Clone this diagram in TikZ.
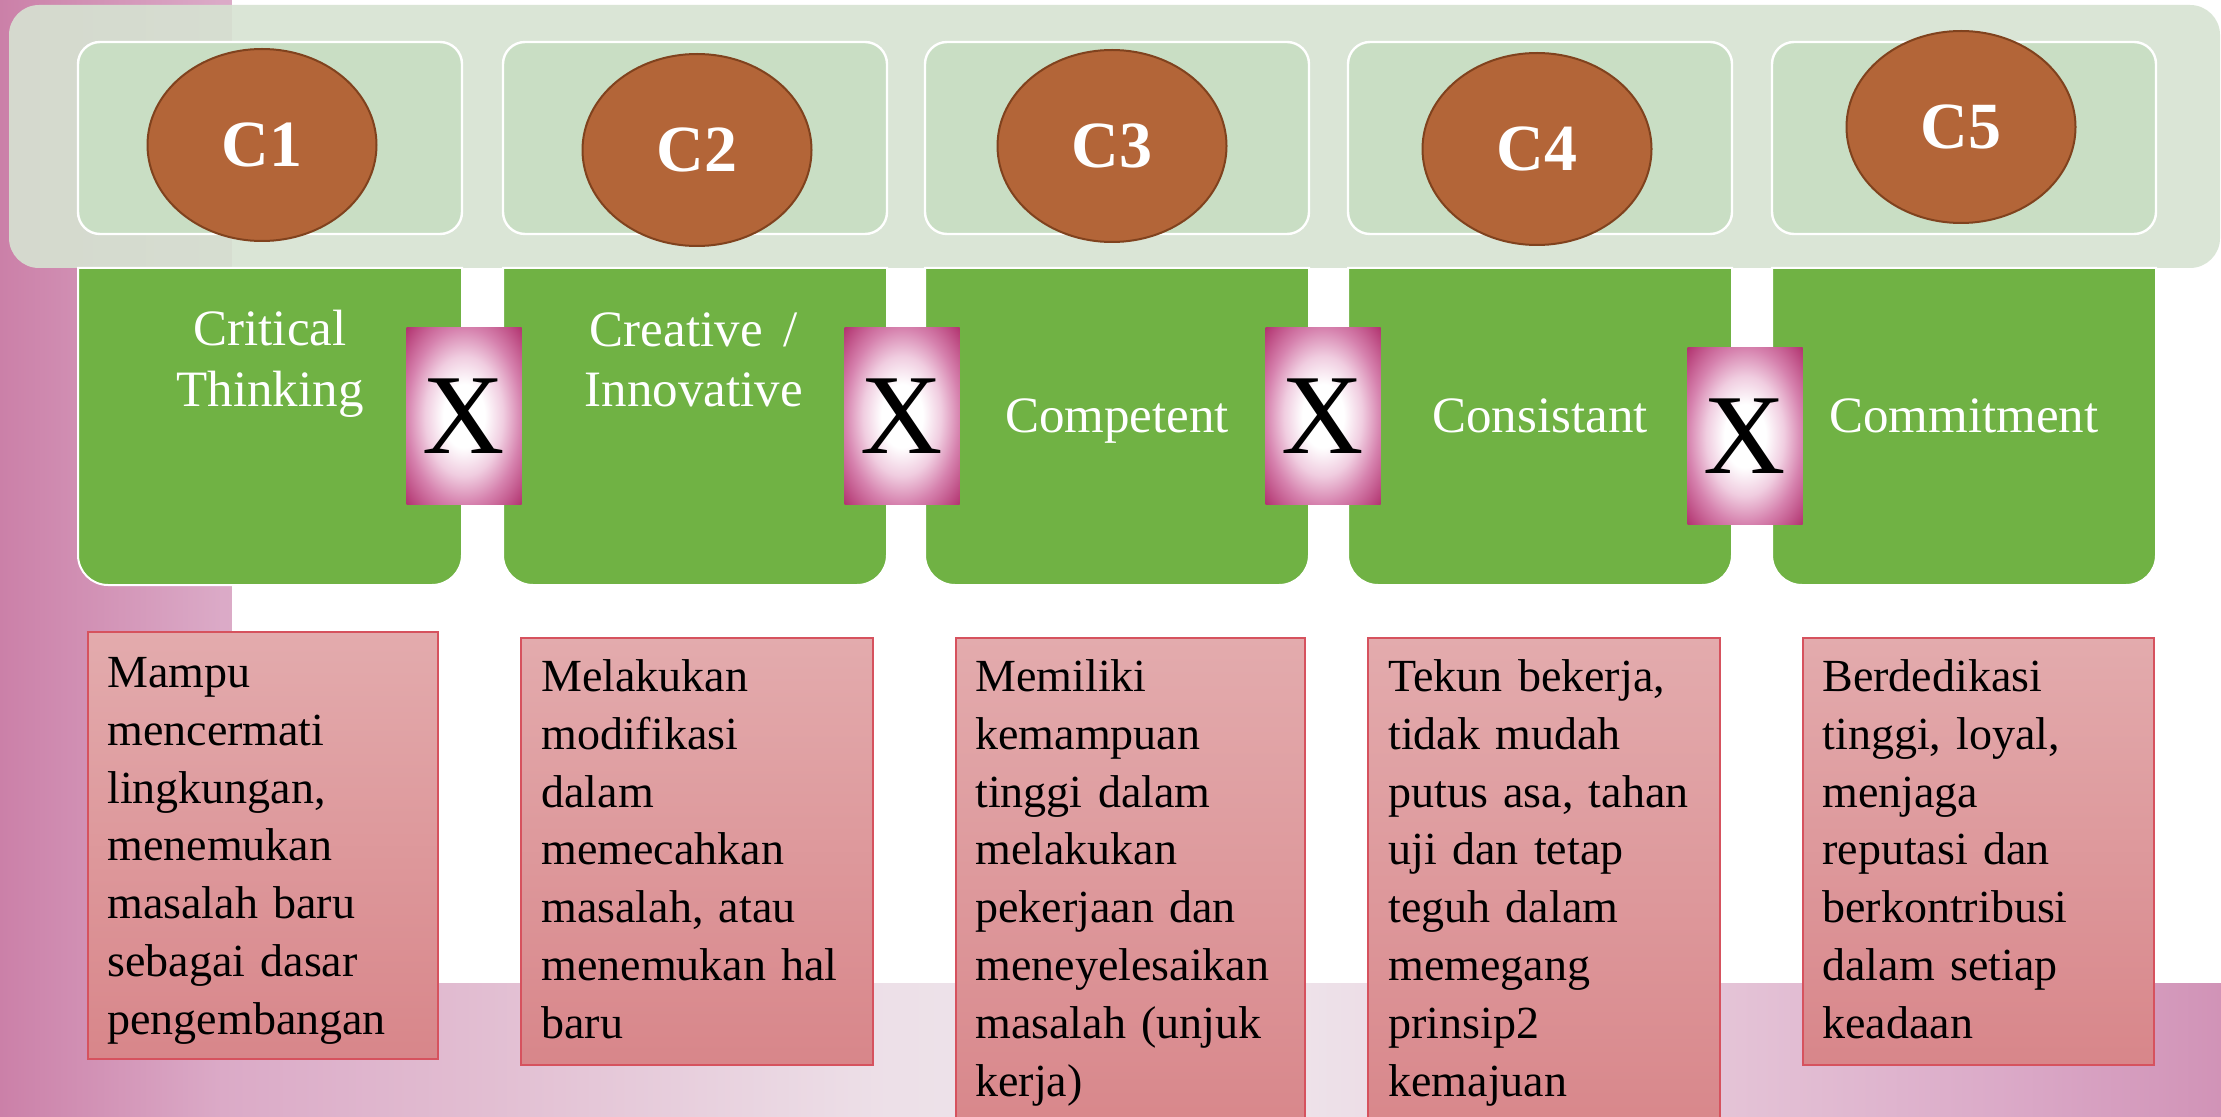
\documentclass[tikz,border=0pt]{standalone}
\usepackage{fontspec}
\setmainfont{Liberation Serif}
\usetikzlibrary{shapes.geometric}
\definecolor{pkA}{RGB}{203,128,168}
\definecolor{pkB}{RGB}{219,170,199}
\definecolor{pkC}{RGB}{226,190,210}
\definecolor{pkD}{RGB}{237,224,232}
\definecolor{pkE}{RGB}{239,230,236}
\definecolor{pkF}{RGB}{231,203,219}
\definecolor{pkG}{RGB}{219,170,200}
\definecolor{pkH}{RGB}{209,147,183}
\definecolor{bandG}{RGB}{214,227,210}
\definecolor{innerG}{RGB}{201,222,196}
\definecolor{greenF}{RGB}{112,178,68}
\definecolor{ellF}{RGB}{179,101,56}
\definecolor{ellD}{RGB}{128,66,30}
\definecolor{redT}{RGB}{227,171,173}
\definecolor{redB}{RGB}{216,134,138}
\definecolor{redL}{RGB}{214,82,94}
\definecolor{xmA}{RGB}{240,205,224}
\definecolor{xmB}{RGB}{214,130,174}
\definecolor{xmC}{RGB}{178,52,112}
\pgfdeclarehorizontalshading{bgshade}{100bp}{color(0bp)=(pkA); color(25bp)=(pkA); color(30bp)=(pkB); color(36bp)=(pkC); color(45bp)=(pkD); color(53bp)=(pkE); color(62bp)=(pkF); color(70bp)=(pkG); color(75bp)=(pkH); color(100bp)=(pkH)}
\pgfdeclareradialshading{xglow}{\pgfpoint{0bp}{0bp}}{color(0bp)=(white); color(9bp)=(white); color(17bp)=(xmA); color(25bp)=(xmB); color(35.4bp)=(xmC); color(50bp)=(xmC)}
\tikzset{
  innerbox/.style={fill=innerG, draw=white, line width=1.2pt, rounded corners=11pt},
  greenbox/.style={fill=greenF, draw=white, line width=1pt},
  cell/.style={ellipse, fill=ellF, draw=ellD, line width=1pt, minimum width=114.5pt, minimum height=96pt, inner sep=0pt, text=white, font=\fontsize{33}{40}\selectfont\bfseries},
  xbox/.style={rectangle, shade, shading=xglow, minimum width=57.5pt, minimum height=88pt, inner sep=0pt, font=\fontsize{57}{60}\selectfont},
  glabel/.style={text=white, font=\fontsize{25.5}{30.5}\selectfont, anchor=base, inner sep=0pt},
  desc/.style={anchor=north west, inner sep=0pt, text width=170pt, align=left, font=\fontsize{23}{28.9}\selectfont},
  redbox/.style={top color=redT, bottom color=redB, draw=redL, line width=1pt}
}
\begin{document}
\begin{tikzpicture}[x=0.5pt,y=-0.5pt]
\useasboundingbox (0,0) rectangle (2221,1117);
\clip (0,0) rectangle (2221,1117);
% background
\shade[shading=bgshade] (0,0) rectangle (2221,1117);
\fill[white] (232,0) rectangle (2221,983);
% top band
\fill[bandG, fill opacity=0.9, rounded corners=15pt] (9,5) rectangle (2220,268);
% inner boxes and green boxes
\foreach \x in {78,503,925,1348,1772}{
  \draw[innerbox] (\x,42) rectangle ({\x+384},234);
  \draw[greenbox] (\x,268) -- (\x,555) .. controls (\x,571.6) and ({\x+13.4},585) .. ({\x+30},585)
     -- ({\x+354},585) .. controls ({\x+370.6},585) and ({\x+384},571.6) .. ({\x+384},555)
     -- ({\x+384},268) -- cycle;
}
% ellipses
\node[cell] (c1) at (262,145) {C1};
\node[cell] (c2) at (697,150) {C2};
\node[cell] (c3) at (1112,146) {C3};
\node[cell] (c4) at (1537,149) {C4};
\node[cell] (c5) at (1961,127) {C5};
% green labels
\node[glabel] (g1a) at (270,346) {Critical};
\node[glabel] (g1b) at (270,407) {Thinking};
\node[glabel] (g2a) at (694,347) {Creative \,/};
\node[glabel] (g2b) at (694,407) {Innovative};
\node[glabel] (g3) at (1117,432) {Competent};
\node[glabel] (g4) at (1540,432) {Consistant};
\node[glabel] (g5) at (1964,432) {Commitment};
% X boxes
\node[xbox] (x1) at (464,416) {X};
\node[xbox] (x2) at (902,416) {X};
\node[xbox] (x3) at (1323,416) {X};
\node[xbox] (x4) at (1745,436) {X};
% description boxes
\shade[redbox] (88,632) rectangle (438,1059);
\shade[redbox] (521,638) rectangle (873,1065);
\shade[redbox] (956,638) rectangle (1305,1140);
\shade[redbox] (1368,638) rectangle (1720,1140);
\shade[redbox] (1803,638) rectangle (2154,1065);
\node[desc] (d1) at (107,647) {\rule{0pt}{20pt}Mampu\\mencermati\\lingkungan,\\menemukan\\masalah baru\\sebagai dasar\\pengembangan};
\node[desc] (d2) at (541,651) {\rule{0pt}{20pt}Melakukan\\modifikasi\\dalam\\memecahkan\\masalah, atau\\menemukan hal\\baru};
\node[desc] (d3) at (975,651) {\rule{0pt}{20pt}Memiliki\\kemampuan\\tinggi dalam\\melakukan\\pekerjaan dan\\meneyelesaikan\\masalah (unjuk\\kerja)};
\node[desc] (d4) at (1388,651) {\rule{0pt}{20pt}Tekun bekerja,\\tidak mudah\\putus asa, tahan\\uji dan tetap\\teguh dalam\\memegang\\prinsip2\\kemajuan};
\node[desc] (d5) at (1822,651) {\rule{0pt}{20pt}Berdedikasi\\tinggi, loyal,\\menjaga\\reputasi dan\\berkontribusi\\dalam setiap\\keadaan};
\end{tikzpicture}
\end{document}
